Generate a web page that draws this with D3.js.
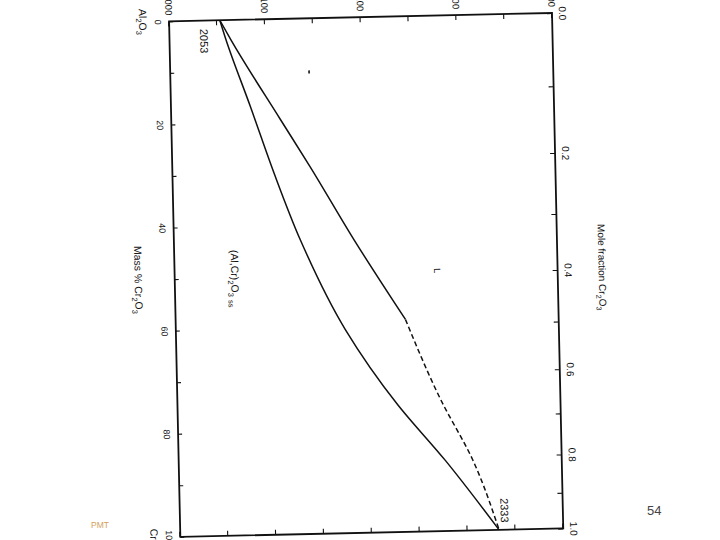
<!DOCTYPE html>
<html>
<head>
<meta charset="utf-8">
<script src="https://cdn.jsdelivr.net/npm/d3@7"></script>
<style>
body{margin:0;background:#fff;}
svg{display:block;font-family:"Liberation Sans",Arial,sans-serif;}
</style>
</head>
<body>
<svg id="chart" width="720" height="540"></svg>
<script>
// values: mass % Cr2O3 vs temperature (C)
const liquidusMass = [0, 3.8, 19.5, 28.8, 43.1, 58.8]
const liquidusTemp = [2053, 2064, 2114, 2144, 2188, 2240]
const liquidusDashMass = [58.8, 74.5, 86.3, 100]
const liquidusDashTemp = [2240, 2275, 2307, 2333]
const solidusMass = [0, 3.8, 16.9, 29.8, 42.9, 60.5, 75.3, 86.2, 100]
const solidusTemp = [2053, 2059, 2083, 2106, 2132, 2177, 2230, 2278, 2333]

// tick lists
const tempTicks = [2000, 2050, 2100, 2150, 2200, 2250, 2300, 2350, 2400]
const tempLabels = [2000, 2100, 2200, 2300, 2400]
const massTicks = [0, 10, 20, 30, 40, 50, 60, 70, 80, 90, 100]
const massLabels = [0, 20, 40, 60, 80, 100]
const moleTicks = [0, 0.1, 0.2, 0.3, 0.4, 0.5, 0.6, 0.7, 0.8, 0.9, 1.0]
const moleLabels = ["0.0", "0.2", "0.4", "0.6", "0.8", "1.0"]

const width = 515.6, height = 383
const svg = d3.select("#chart")

// the scan sits on its side, slightly skewed
const g = svg.append("g").attr("transform", "translate(552,13) rotate(88.75)")

const x = d3.scaleLinear().domain([0, 100]).range([0, width])
const y = d3.scaleLinear().domain([2000, 2400]).range([height, 0])
// mole fraction Cr2O3 -> mass % (molar masses Cr2O3 151.99, Al2O3 101.96)
const toMass = f => 100 * f * 151.99 / (f * 151.99 + (1 - f) * 101.96)

function styleAxis(sel, fs) {
  sel.select(".domain").remove()
  sel.selectAll(".tick line").attr("stroke", "#111").attr("stroke-width", 1.1)
  sel.selectAll("text").attr("font-size", fs).attr("fill", "#111")
    .attr("font-family", "Liberation Sans, Arial, sans-serif")
}

// mass % axis (bottom of original)
g.append("g")
  .attr("transform", "translate(0," + height + ")")
  .call(d3.axisBottom(x).tickValues(massTicks).tickSize(-4).tickPadding(8)
    .tickFormat(d => massLabels.includes(d) ? d : ""))
  .call(s => styleAxis(s, 9))

// temperature axis (left of original)
g.append("g")
  .call(d3.axisLeft(y).tickValues(tempTicks).tickSize(-5).tickPadding(6)
    .tickFormat(d => tempLabels.includes(d) ? d : ""))
  .call(s => styleAxis(s, 9.5))

// right side, ticks only
g.append("g")
  .attr("transform", "translate(" + width + ",0)")
  .call(d3.axisRight(y).tickValues(tempTicks).tickSize(-5).tickFormat(""))
  .call(s => styleAxis(s, 9))

// mole fraction axis (top of original)
g.append("g")
  .call(d3.axisTop(x).tickValues(moleTicks.map(toMass)).tickSize(-5).tickPadding(7)
    .tickFormat((d, i) => i % 2 === 0 ? moleLabels[i / 2] : ""))
  .call(s => styleAxis(s, 10))

// frame
g.append("rect")
  .attr("width", width).attr("height", height)
  .attr("fill", "none").attr("stroke", "#111").attr("stroke-width", 1.8)

const line = d3.line().x(d => x(d[0])).y(d => y(d[1])).curve(d3.curveMonotoneX)

g.append("path")
  .datum(d3.zip(liquidusMass, liquidusTemp))
  .attr("d", line).attr("fill", "none").attr("stroke", "#111").attr("stroke-width", 1.5)
g.append("path")
  .datum(d3.zip(liquidusDashMass, liquidusDashTemp))
  .attr("d", line).attr("fill", "none").attr("stroke", "#111").attr("stroke-width", 1.5)
  .attr("stroke-dasharray", "5,3")
g.append("path")
  .datum(d3.zip(solidusMass, solidusTemp))
  .attr("d", line).attr("fill", "none").attr("stroke", "#111").attr("stroke-width", 1.5)

// text with subscripts, parts alternate normal/sub
function chem(parent, parts, fs) {
  const t = parent.append("text").attr("font-size", fs).attr("fill", "#111")
  parts.forEach((p, i) => {
    const sub = i % 2 === 1
    t.append("tspan").text(p)
      .attr("font-size", sub ? fs * 0.72 : fs)
      .attr("dy", sub ? fs * 0.3 : (i > 0 ? -fs * 0.3 : 0))
  })
  return t
}

g.append("text").attr("x", x(1.6)).attr("y", y(2032))
  .attr("font-size", 11).attr("fill", "#111").text("2053")
g.append("text").attr("x", x(98.6)).attr("y", y(2335)).attr("text-anchor", "end")
  .attr("font-size", 11).attr("fill", "#111").text("2333")

chem(g, ["(Al,Cr)", "2", "O", "3", " ", "ss"], 10.5)
  .attr("x", x(44.6)).attr("y", y(2059))

g.append("text").attr("x", x(49)).attr("y", y(2271))
  .attr("font-size", 9).attr("fill", "#111").text("L")

// small speck on the scan
g.append("line")
  .attr("x1", x(10.1)).attr("x2", x(10.7)).attr("y1", y(2145)).attr("y2", y(2145))
  .attr("stroke", "#111").attr("stroke-width", 1.6)

chem(g, ["Mass % Cr", "2", "O", "3"], 10.5)
  .attr("x", x(50)).attr("y", height + 40).attr("text-anchor", "middle")
chem(g, ["Al", "2", "O", "3"], 10.5)
  .attr("x", x(0)).attr("y", height + 30).attr("text-anchor", "middle")
chem(g, ["Cr", "2", "O", "3"], 10.5)
  .attr("x", x(98.3)).attr("y", height + 30)
chem(g, ["Mole fraction Cr", "2", "O", "3"], 10)
  .attr("x", x(49.5)).attr("y", -41).attr("text-anchor", "middle")

// slide furniture
svg.append("text").attr("x", 91).attr("y", 528)
  .attr("font-size", 8.5).attr("fill", "#d4a05a").text("PMT")
svg.append("text").attr("x", 647).attr("y", 515)
  .attr("font-size", 13).attr("fill", "#444").text("54")
</script>
</body>
</html>
